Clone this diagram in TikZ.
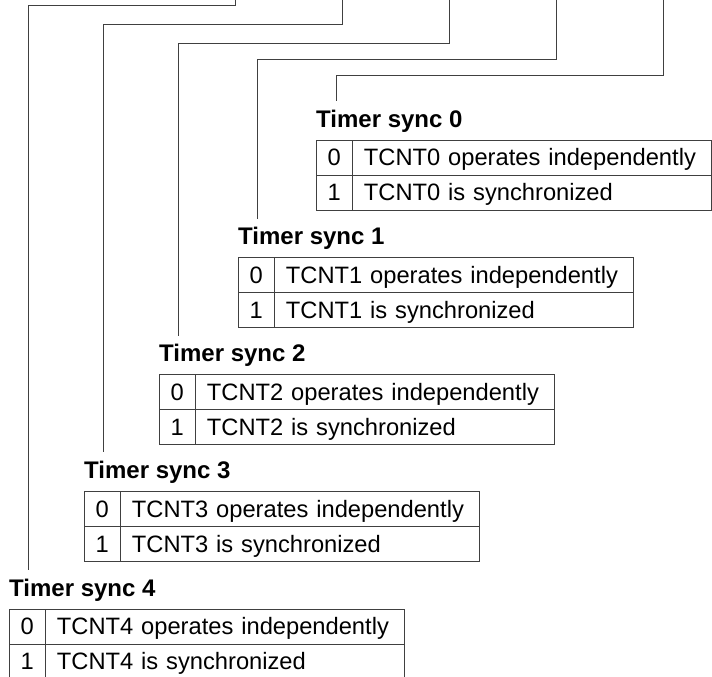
\documentclass[tikz,border=0pt]{standalone}
\usepackage{fontspec}
\setmainfont{Liberation Sans}
\begin{document}
\begin{tikzpicture}[x=1pt,y=-1pt,
  wire/.style={draw=black!75, line width=0.9pt},
  title/.style={font=\fontsize{24}{26}\selectfont\bfseries, anchor=base west, inner sep=0pt},
  numcell/.style={draw=black!75, line width=0.9pt, anchor=north west, minimum width=35.5pt, minimum height=35pt, inner sep=0pt, text height=17pt, text depth=0pt, font=\fontsize{23.7}{26}\selectfont},
  txtcell/.style={numcell, minimum width=359.5pt, text width=335.5pt, inner xsep=12pt, align=left}]
\useasboundingbox (0,0) rectangle (712,677);

% groups: index, table left, table top, right x, horizontal y, left x, stub end y
\foreach \k/\L/\T/\XR/\YH/\XL/\YB in {0/316/139.5/663/75/336/101, 1/238/257/556/59/257/218.5, 2/159/374/449/43/178/336, 3/84/491/342/24/103/452, 4/9/608.5/235/5/28/569.5}{
  \node[title] (lab\k) at (\L,\T-12.5) {Timer sync \k};
  \node[numcell] (n\k a) at (\L,\T) {0};
  \node[txtcell] (t\k a) at (\L+35.5,\T) {TCNT\k\ operates independently};
  \node[numcell] (n\k b) at (\L,\T+35) {1};
  \node[txtcell] (t\k b) at (\L+35.5,\T+35) {TCNT\k\ is synchronized};
  \coordinate (top\k) at (\XR,0);
  \coordinate (end\k) at (\XL,\YB);
  \draw[wire] (top\k) |- (\XL,\YH) -- (end\k);
}
\end{tikzpicture}
\end{document}
